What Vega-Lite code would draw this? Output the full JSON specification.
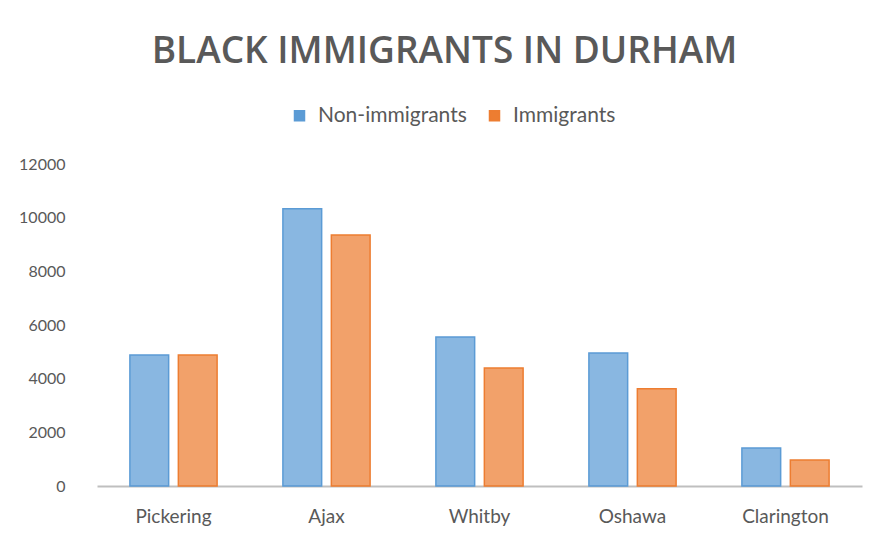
{
  "$schema": "https://vega.github.io/schema/vega-lite/v6.json",
  "autosize": "none",
  "width": 765,
  "height": 322,
  "padding": {"left": 97, "top": 164, "right": 20, "bottom": 55},
  "background": "white",
  "config": {"view": {"stroke": null}},
  "title": {
    "text": "BLACK IMMIGRANTS IN DURHAM",
    "font": "Open Sans",
    "fontSize": 37,
    "fontWeight": 600,
    "color": "#595959",
    "anchor": "middle",
    "frame": "group",
    "dx": -35,
    "offset": 34,
    "limit": 0
  },
  "data": {
    "values": [
      {"place": "Pickering", "group": "Non-immigrants", "value": 4880},
      {"place": "Pickering", "group": "Immigrants", "value": 4880},
      {"place": "Ajax", "group": "Non-immigrants", "value": 10330},
      {"place": "Ajax", "group": "Immigrants", "value": 9350},
      {"place": "Whitby", "group": "Non-immigrants", "value": 5550},
      {"place": "Whitby", "group": "Immigrants", "value": 4400},
      {"place": "Oshawa", "group": "Non-immigrants", "value": 4960},
      {"place": "Oshawa", "group": "Immigrants", "value": 3620},
      {"place": "Clarington", "group": "Non-immigrants", "value": 1420},
      {"place": "Clarington", "group": "Immigrants", "value": 970}
    ]
  },
  "mark": {"type": "bar", "fillOpacity": 0.72, "strokeWidth": 1.5},
  "encoding": {
    "x": {
      "field": "place",
      "type": "nominal",
      "sort": ["Pickering", "Ajax", "Whitby", "Oshawa", "Clarington"],
      "scale": {"paddingInner": 0.43, "paddingOuter": 0.215},
      "axis": {
        "title": null,
        "labelAngle": 0,
        "labelFont": "Lato",
        "labelFontSize": 19,
        "labelColor": "#595959",
        "labelPadding": 21,
        "ticks": false,
        "domainColor": "#bfbfbf",
        "domainWidth": 2
      }
    },
    "xOffset": {
      "field": "group",
      "type": "nominal",
      "sort": ["Non-immigrants", "Immigrants"],
      "scale": {"paddingInner": 0.2, "paddingOuter": 0}
    },
    "y": {
      "field": "value",
      "type": "quantitative",
      "scale": {"domain": [0, 12000], "nice": false},
      "axis": {
        "title": null,
        "values": [0, 2000, 4000, 6000, 8000, 10000, 12000],
        "format": "d",
        "grid": false,
        "domain": false,
        "ticks": false,
        "labelFont": "Lato",
        "labelFontSize": 16,
        "labelColor": "#595959",
        "labelPadding": 32
      }
    },
    "color": {
      "field": "group",
      "type": "nominal",
      "scale": {"domain": ["Non-immigrants", "Immigrants"], "range": ["#5b9bd5", "#ed7d31"]},
      "legend": {
        "title": null,
        "orient": "none",
        "direction": "horizontal",
        "legendX": 192,
        "legendY": -59,
        "symbolType": "square",
        "symbolSize": 100,
        "symbolOpacity": 1,
        "labelFont": "Lato",
        "labelFontSize": 21,
        "labelColor": "#595959",
        "labelOffset": 8,
        "columnPadding": 17
      }
    },
    "stroke": {
      "field": "group",
      "type": "nominal",
      "scale": {"domain": ["Non-immigrants", "Immigrants"], "range": ["#5b9bd5", "#ed7d31"]},
      "legend": null
    }
  }
}
